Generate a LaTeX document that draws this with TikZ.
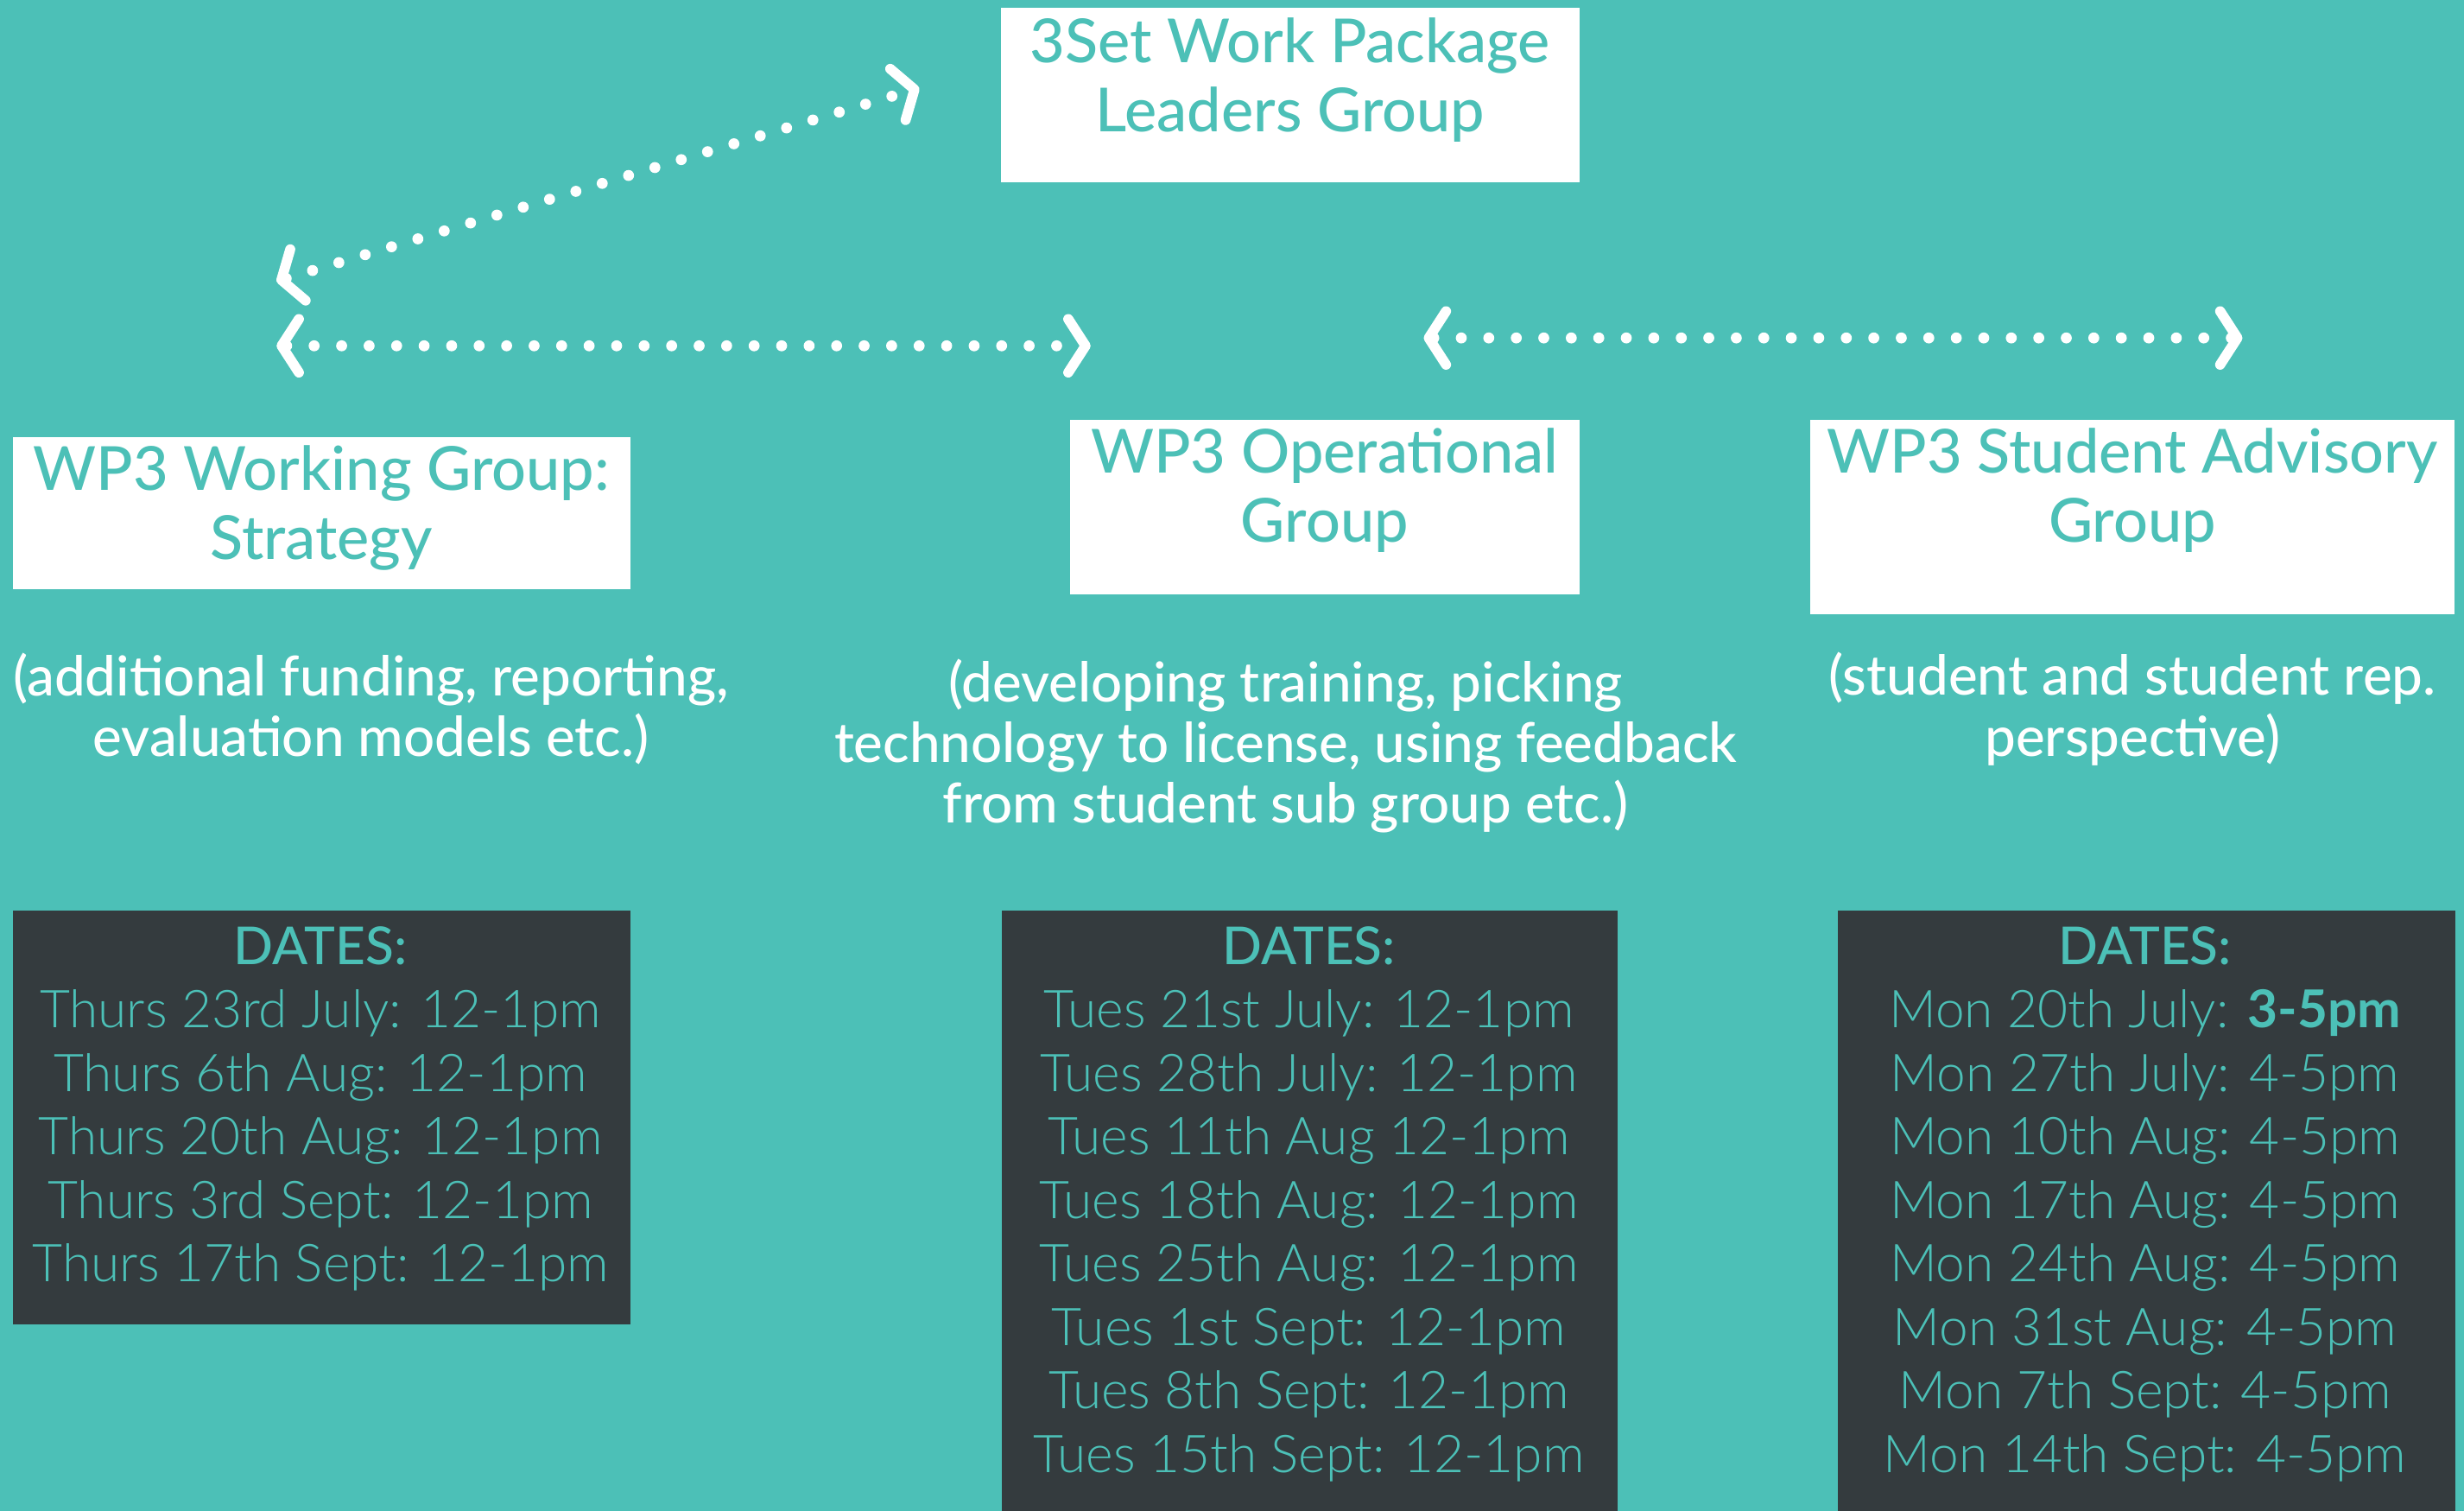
\documentclass[tikz,border=0pt]{standalone}
\usepackage{fontspec}
\setmainfont{Lato}
\newfontfamily\thinfont{Lato Light}
\IfFontExistsTF{Lato Medium}{\newfontfamily\midfont{Lato Medium}}{\newfontfamily\midfont{Lato}}
\usetikzlibrary{arrows.meta}
\definecolor{teal3}{HTML}{4CC0B7}
\definecolor{slate3}{HTML}{343B3E}

\tikzset{
  card/.style={fill=white, inner sep=0pt},
  datecard/.style={fill=slate3, inner sep=0pt, anchor=north west},
  title/.style={text=teal3, align=center, inner sep=0pt, font=\midfont\fontsize{19.3}{22}\selectfont},
  blurb/.style={text=white, align=center, inner sep=0pt, font=\midfont\fontsize{17.5}{19.3}\selectfont},
  dates/.style={text=teal3, align=center, inner sep=0pt, anchor=north, font=\thinfont\fontsize{16.6}{20.2}\selectfont},
  dotlink/.style={white, line width=3.5pt, line cap=round, dash pattern=on 0pt off 8.75pt,
    >={Straight Barb[length=5.5pt, width=17pt, line width=3.2pt, round]}, <->}
}

\begin{document}
\begin{tikzpicture}[x=0.5pt,y=0.5pt,yscale=-1,xscale=1]
    %background, keeps the page at 1568 x 961
    \fill[teal3] (0,0) rectangle (1568,961);
    \useasboundingbox (0,0) rectangle (1568,961);

    %Shape: Rectangle [leaders]
    \node[card, minimum width=184pt, minimum height=55.5pt] (leadbox) at (821,60.5) {};
    % Text Node
    \node[title] (lead) at (821,51) {3Set Work Package\\Leaders Group};

    %Shape: Rectangle [strategy]
    \node[card, minimum width=196.5pt, minimum height=48.5pt] (stratbox) at (204.5,326.5) {};
    % Text Node
    \node[title] (strat) at (204.5,323) {WP3 Working Group:\\Strategy};

    %Shape: Rectangle [operational]
    \node[card, minimum width=162pt, minimum height=55.5pt] (opbox) at (843,322.5) {};
    % Text Node
    \node[title] (op) at (843,312) {WP3 Operational\\Group};

    %Shape: Rectangle [student]
    \node[card, minimum width=205pt, minimum height=62pt] (studbox) at (1357,329) {};
    % Text Node
    \node[title] (stud) at (1357,312) {WP3 Student Advisory\\Group};

    % Text Node
    \node[blurb] (stratnote) at (236,451) {(additional funding, reporting,\\evaluation models etc.)};
    % Text Node
    \node[blurb] (opnote) at (818,474.5) {(developing training, picking\\technology to license, using feedback\\from student sub group etc.)};
    % Text Node
    \node[blurb] (studnote) at (1357,451) {(student and student rep.\\perspective)};

    %Shape: Rectangle [dates]
    \node[datecard, minimum width=196.5pt, minimum height=131.5pt] (stratdates) at (8,579) {};
    \node[datecard, minimum width=196pt, minimum height=193pt] (opdates) at (637,579) {};
    \node[datecard, minimum width=196.5pt, minimum height=193pt] (studdates) at (1169,579) {};

    % Text Node
    \node[dates] (stratlist) at (204,589) {{\midfont DATES:}\\
      Thurs 23rd July: 12-1pm\\Thurs 6th Aug: 12-1pm\\Thurs 20th Aug: 12-1pm\\
      Thurs 3rd Sept: 12-1pm\\Thurs 17th Sept: 12-1pm};
    % Text Node
    \node[dates] (oplist) at (833,589) {{\midfont DATES:}\\
      Tues 21st July: 12-1pm\\Tues 28th July: 12-1pm\\Tues 11th Aug 12-1pm\\
      Tues 18th Aug: 12-1pm\\Tues 25th Aug: 12-1pm\\Tues 1st Sept: 12-1pm\\
      Tues 8th Sept: 12-1pm\\Tues 15th Sept: 12-1pm};
    % Text Node
    \node[dates] (studlist) at (1365,589) {{\midfont DATES:}\\
      Mon 20th July: {\rmfamily\bfseries 3-5pm}\\Mon 27th July: 4-5pm\\Mon 10th Aug: 4-5pm\\
      Mon 17th Aug: 4-5pm\\Mon 24th Aug: 4-5pm\\Mon 31st Aug: 4-5pm\\
      Mon 7th Sept: 4-5pm\\Mon 14th Sept: 4-5pm};

    %Dotted links
    \coordinate (diagA) at (176,179);
    \coordinate (diagB) at (585,56);
    \coordinate (leftA) at (176,220);
    \coordinate (leftB) at (694,220);
    \coordinate (rightA) at (906,215);
    \coordinate (rightB) at (1427,215);
    \draw[dotlink] (diagA) -- (diagB);
    \draw[dotlink] (leftA) -- (leftB);
    \draw[dotlink] (rightA) -- (rightB);

\end{tikzpicture}
\end{document}
